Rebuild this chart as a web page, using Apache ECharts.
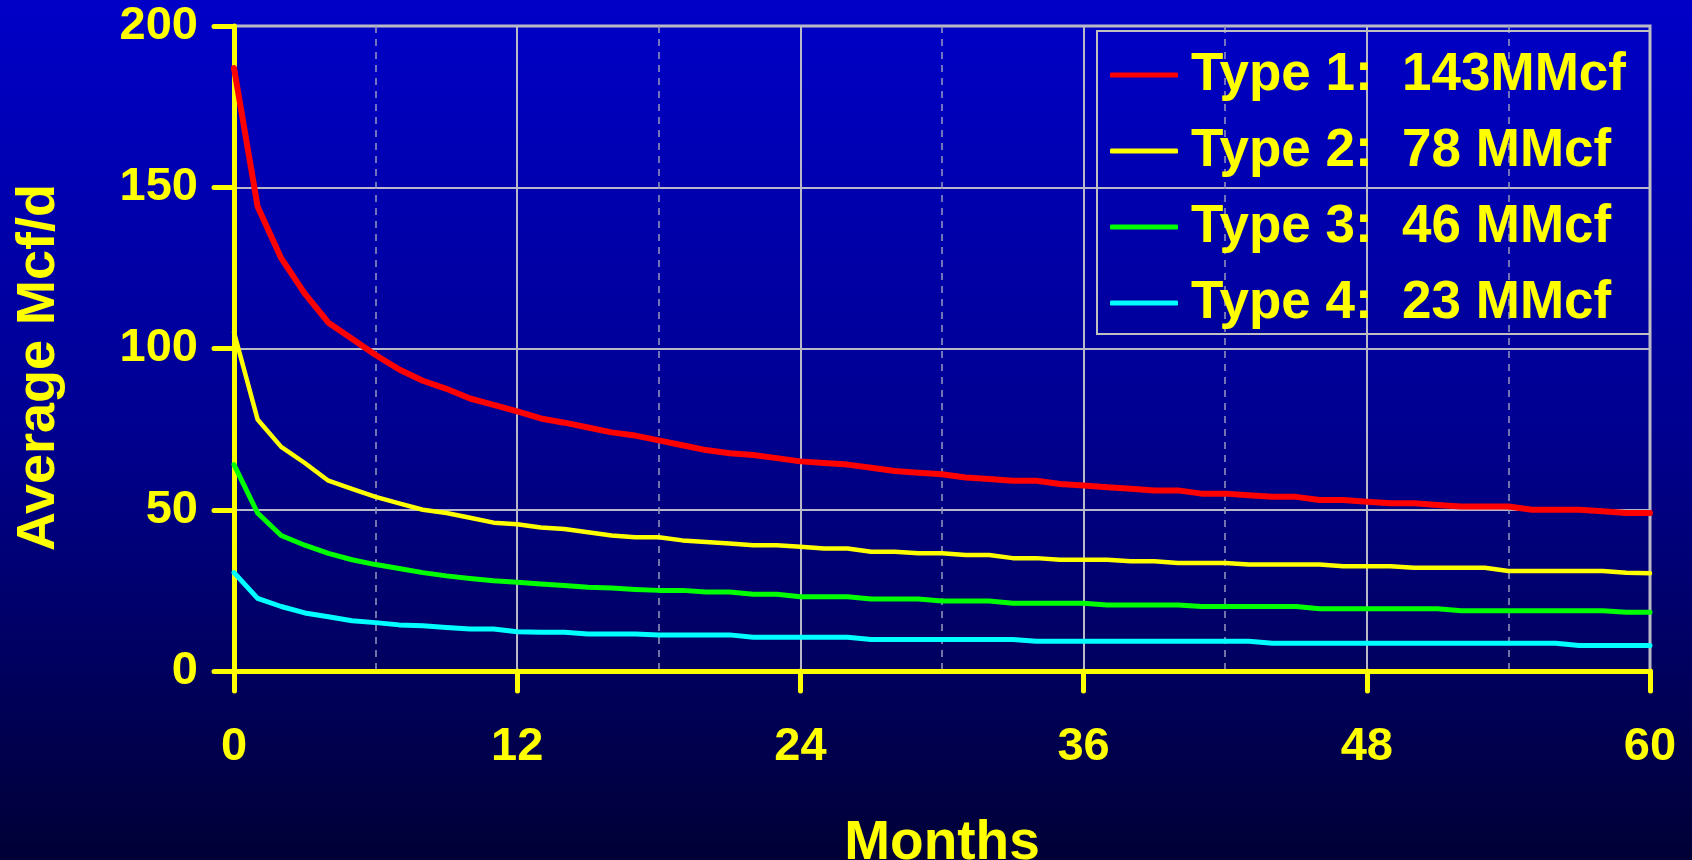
<!DOCTYPE html>
<html>
<head>
<meta charset="utf-8">
<script src="https://cdn.jsdelivr.net/npm/echarts@6/dist/echarts.min.js"></script>
<style>
html,body{margin:0;padding:0;width:1692px;height:860px;overflow:hidden;background:#000060;}
#chart{width:1692px;height:860px;}
</style>
</head>
<body>
<div id="chart"></div>
<script>
const months = Array.from({length: 61}, (_, i) => i);
const seriesNames = ['Type 1:  143MMcf', 'Type 2:  78 MMcf', 'Type 3:  46 MMcf', 'Type 4:  23 MMcf'];
const type1 = [187,144,128,117,108,103,98,93.5,90,87.5,84.5,82.5,80.5,78.3,77,75.5,74,73,71.5,70,68.5,67.5,67,66,65,64.5,64,63,62,61.5,61,60,59.5,59,59,58,57.5,57,56.5,56,56,55,55,54.5,54,54,53,53,52.5,52,52,51.5,51,51,51,50,50,50,49.5,49,49];
const type2 = [105,78,69.5,64.5,59,56.5,54,52,50,49,47.5,46,45.5,44.5,44,43,42,41.5,41.5,40.5,40,39.5,39,39,38.5,38,38,37,37,36.5,36.5,36,36,35,35,34.5,34.5,34.5,34,34,33.5,33.5,33.5,33,33,33,33,32.5,32.5,32.5,32,32,32,32,31,31,31,31,31,30.5,30.3];
const type3 = [64,49,42,39,36.5,34.5,33,31.8,30.5,29.5,28.7,28,27.5,27,26.5,26,25.7,25.3,25,25,24.5,24.5,23.8,23.8,23,23,23,22.3,22.3,22.3,21.7,21.7,21.7,21,21,21,21,20.5,20.5,20.5,20.5,20,20,20,20,20,19.3,19.3,19.3,19.3,19.3,19.3,18.7,18.7,18.7,18.7,18.7,18.7,18.7,18.2,18.2];
const type4 = [30.5,22.5,20,18,16.8,15.6,15,14.3,14,13.5,13,13,12.2,12,12,11.5,11.5,11.5,11.2,11.2,11.2,11.2,10.5,10.5,10.5,10.5,10.5,9.8,9.8,9.8,9.8,9.8,9.8,9.8,9.2,9.2,9.2,9.2,9.2,9.2,9.2,9.2,9.2,9.2,8.6,8.6,8.6,8.6,8.6,8.6,8.6,8.6,8.6,8.6,8.6,8.6,8.6,7.9,7.9,7.9,7.9];
const xTicks = [0, 12, 24, 36, 48, 60];
const yTicks = [0, 50, 100, 150, 200];

const allSeries = [type1, type2, type3, type4];
const colors = ['#FF0000', '#FFFF00', '#00FF00', '#00FFFF'];
const widths = [6, 4.5, 5, 5];
const FONT = '"Liberation Sans", Arial, sans-serif';
const YEL = '#FFFF00';

const chart = echarts.init(document.getElementById('chart'), null, {renderer: 'canvas'});
chart.setOption({
  animation: false,
  backgroundColor: {
    type: 'linear', x: 0, y: 0, x2: 0, y2: 1,
    colorStops: [
      {offset: 0, color: '#0000C8'},
      {offset: 0.5, color: '#000090'},
      {offset: 1, color: '#000036'}
    ]
  },
  grid: {
    left: 234, right: 42, top: 26, bottom: 189,
    containLabel: false, outerBoundsMode: 'none',
    show: true, borderColor: '#C0C0C0', borderWidth: 3, backgroundColor: 'transparent'
  },
  legend: {
    orient: 'vertical',
    left: 1110, top: 47,
    data: seriesNames,
    icon: 'roundRect',
    itemWidth: 68, itemHeight: 5,
    itemGap: 20,
    padding: 0,
    textStyle: {color: YEL, fontSize: 53, fontWeight: 'bold', fontFamily: FONT, lineHeight: 56, padding: [0, 0, 0, 8]}
  },
  graphic: [{
    type: 'rect', left: 1096, top: 30, z: 10,
    shape: {width: 553, height: 303},
    style: {fill: 'transparent', stroke: '#C0C0C0', lineWidth: 2}
  }],
  xAxis: {
    type: 'value', min: 0, max: 60, interval: 12,
    name: 'Months', nameLocation: 'middle', nameGap: 145,
    nameTextStyle: {color: YEL, fontSize: 55, fontWeight: 'bold', fontFamily: FONT, verticalAlign: 'top'},
    axisLine: {show: true, onZero: false, lineStyle: {color: YEL, width: 5, cap: 'round'}},
    axisTick: {show: true, length: 20, lineStyle: {color: YEL, width: 5, cap: 'round'}},
    axisLabel: {color: YEL, fontSize: 47, fontWeight: 'bold', fontFamily: FONT, margin: 53,
      formatter: v => xTicks.includes(v) ? String(v) : ''},
    splitLine: {show: true, lineStyle: {color: '#B8B8C8', width: 2}},
    minorTick: {show: false, splitNumber: 2},
    minorSplitLine: {show: true, lineStyle: {color: '#9898C0', width: 1.5, type: [7, 6]}}
  },
  yAxis: {
    type: 'value', min: 0, max: 200, interval: 50,
    name: 'Average Mcf/d', nameLocation: 'middle', nameGap: 168, nameRotate: 90,
    nameTextStyle: {color: YEL, fontSize: 54, fontWeight: 'bold', fontFamily: FONT, padding: [0, 38, 0, 0]},
    axisLine: {show: true, lineStyle: {color: YEL, width: 5, cap: 'round'}},
    axisTick: {show: true, length: 20, lineStyle: {color: YEL, width: 5, cap: 'round'}},
    axisLabel: {color: YEL, fontSize: 47, fontWeight: 'bold', fontFamily: FONT, margin: 36,
      formatter: v => yTicks.includes(v) ? String(v) : ''},
    splitLine: {show: true, lineStyle: {color: '#B8B8C8', width: 2}}
  },
  series: allSeries.map((arr, i) => ({
    name: seriesNames[i],
    type: 'line',
    data: months.map((m, j) => [m, arr[j]]),
    showSymbol: false,
    symbol: 'none',
    smooth: false,
    color: colors[i],
    lineStyle: {color: colors[i], width: widths[i], join: 'round', cap: 'round'},
    z: 5 - i
  }))
});
</script>
</body>
</html>
